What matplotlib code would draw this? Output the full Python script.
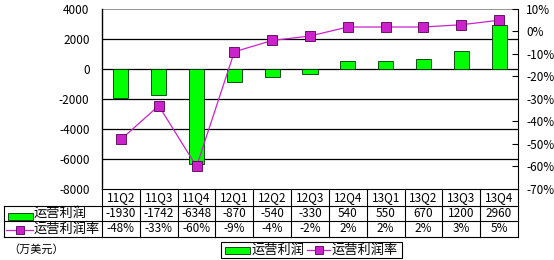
import matplotlib
matplotlib.use("Agg")
import matplotlib.pyplot as plt
from matplotlib.patches import Rectangle
import numpy as np

plt.rcParams['font.family'] = ['Noto Sans CJK SC', 'DejaVu Sans']
plt.rcParams['axes.unicode_minus'] = False

categories = ['11Q2', '11Q3', '11Q4', '12Q1', '12Q2', '12Q3', '12Q4', '13Q1', '13Q2', '13Q3', '13Q4']
profit = [-1930, -1742, -6348, -870, -540, -330, 540, 550, 670, 1200, 2960]
rate = [-48, -33, -60, -9, -4, -2, 2, 2, 2, 3, 5]
profit_labels = ['-1930', '-1742', '-6348', '-870', '-540', '-330', '540', '550', '670', '1200', '2960']
rate_labels = ['-48%', '-33%', '-60%', '-9%', '-4%', '-2%', '2%', '2%', '2%', '3%', '5%']
name_profit = '运营利润'
name_rate = '运营利润率'
unit_text = '（万美元）'

W, H = 554, 260
fig = plt.figure(figsize=(W / 100, H / 100), dpi=100)
L, R, T, B = 102, 518, 9, 189
ax = fig.add_axes([L / W, 1 - B / H, (R - L) / W, (B - T) / H])
x = np.arange(len(categories))
ax.set_xlim(-0.5, len(categories) - 0.5)
ax.set_ylim(-8000, 4000)
bar_color = '#00FF00'
line_color = '#CC22CC'
ax.bar(x, profit, width=0.4, color=bar_color, edgecolor='#003300', linewidth=0.6, zorder=2)
for v in [2000, 0, -2000, -4000, -6000]:
    ax.axhline(v, color='black', linewidth=0.9, zorder=1)
ax.axhline(4000, color='#808080', linewidth=1.2, zorder=1)
ax.set_yticks(np.arange(-8000, 4001, 2000))
ax.set_yticklabels([str(v) for v in range(-8000, 4001, 2000)])
ax.tick_params(axis='y', length=0, pad=9, labelsize=8.5)
ax.set_xticks([])
for s in ['top', 'bottom']:
    ax.spines[s].set_visible(False)
ax.spines['left'].set_linewidth(1.0)
ax.spines['right'].set_visible(False)

ax2 = ax.twinx()
ax2.set_ylim(-70, 10)
ax2.plot(x, rate, color=line_color, linewidth=0.9, marker='s', markersize=6.5,
         markerfacecolor=line_color, markeredgecolor='#550055', markeredgewidth=0.6, zorder=3)
ax2.set_yticks(np.arange(-70, 11, 10))
ax2.set_yticklabels([f'{v}%' for v in range(-70, 11, 10)])
ax2.tick_params(axis='y', direction='in', length=4, width=0.8, pad=6, labelsize=8.5)
for s in ['top', 'bottom', 'left']:
    ax2.spines[s].set_visible(False)
ax2.spines['right'].set_linewidth(0.8)
ax2.set_xticks([])

# table in pixel-coordinate overlay
ov = fig.add_axes([0, 0, 1, 1], zorder=5)
ov.set_xlim(0, W)
ov.set_ylim(H, 0)
ov.axis('off')
ov.patch.set_alpha(0)

col_w = (R - L) / len(categories)
edges = [L + i * col_w for i in range(len(categories) + 1)]
centers = [L + (i + 0.5) * col_w for i in range(len(categories))]
y_hdr_top, y_r1, y_r2, y_end = 189, 205.5, 221, 237
xl = 4
lw = 0.8
ov.plot([L, R], [y_hdr_top, y_hdr_top], color='black', lw=lw)
ov.plot([xl, R], [y_r1, y_r1], color='black', lw=lw)
ov.plot([xl, R], [y_r2, y_r2], color='black', lw=lw)
ov.plot([xl, R], [y_end, y_end], color='black', lw=lw)
ov.plot([xl, xl], [y_r1, y_end], color='black', lw=lw)
for e in edges:
    ov.plot([e, e], [y_hdr_top, y_end], color='black', lw=lw)
fs = 8.5
for i, c in enumerate(centers):
    ov.text(c, (y_hdr_top + y_r1) / 2, categories[i], ha='center', va='center', fontsize=fs)
    ov.text(c, (y_r1 + y_r2) / 2, profit_labels[i], ha='center', va='center', fontsize=fs)
    ov.text(c, (y_r2 + y_end) / 2, rate_labels[i], ha='center', va='center', fontsize=fs)

# row labels
ov.add_patch(Rectangle((8, 213), 25, 6.5, facecolor=bar_color, edgecolor='#003300', lw=0.6))
ov.text(33, (y_r1 + y_r2) / 2 + 0.5, name_profit, ha='left', va='center', fontsize=9.5)
ym = (y_r2 + y_end) / 2 + 0.5
ov.plot([6, 33], [ym, ym], color=line_color, lw=0.9)
ov.plot([20], [ym], marker='s', markersize=6, color=line_color, markeredgecolor='#550055', markeredgewidth=0.6)
ov.text(33, ym, name_rate, ha='left', va='center', fontsize=9.5)

ov.text(8, 249, unit_text, ha='left', va='center', fontsize=8)

# legend box
ov.add_patch(Rectangle((221, 242), 181, 16, facecolor='white', edgecolor='black', lw=0.8))
ov.add_patch(Rectangle((225, 246.5), 25, 7.5, facecolor=bar_color, edgecolor='#003300', lw=0.6))
ov.text(251, 250, name_profit, ha='left', va='center', fontsize=9.5)
ov.plot([307, 330], [250, 250], color=line_color, lw=0.9)
ov.plot([318.5], [250], marker='s', markersize=5.5, color=line_color, markeredgecolor='#550055', markeredgewidth=0.6)
ov.text(331, 250, name_rate, ha='left', va='center', fontsize=9.5)

fig.savefig('out.png', dpi=100)
